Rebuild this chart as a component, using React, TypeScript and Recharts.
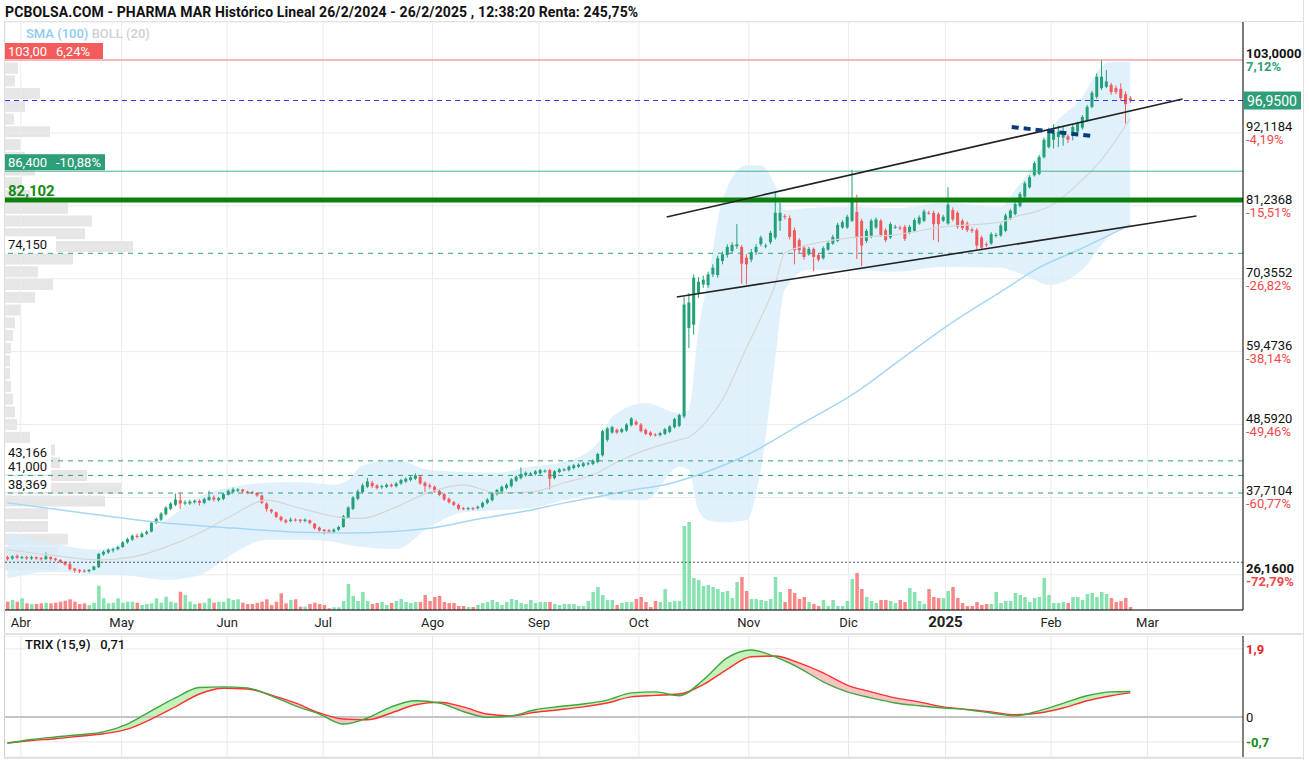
import React from 'react';
import {
  ComposedChart,
  Bar,
  Line,
  Area,
  XAxis,
  YAxis,
  CartesianGrid,
  ReferenceLine,
  Cell,
} from 'recharts';

const FONT = 'Roboto, "Liberation Sans", Arial, sans-serif';
const UP = '#23a077';
const DOWN = '#f4585b';
const VOL_UP = '#86e2ae';
const VOL_DOWN = '#f78888';

// x axis: trading-day index, month starts
const monthTicks = [2.8, 23.8, 45.8, 65.8, 88.6, 110.8, 131.6, 154.5, 175.3, 195.5, 217.5, 237.6];
const monthLabels = ['Abr', 'May', 'Jun', 'Jul', 'Ago', 'Sep', 'Oct', 'Nov', 'Dic', '2025', 'Feb', 'Mar'];

// right price axis
const priceTicks = [103, 92.1184, 81.2368, 70.3552, 59.4736, 48.592, 37.7104, 26.16];
const priceTickLabels = ['103,0000', '92,1184', '81,2368', '70,3552', '59,4736', '48,5920', '37,7104', '26,1600'];
const pctTickLabels = ['7,12%', '-4,19%', '-15,51%', '-26,82%', '-38,14%', '-49,46%', '-60,77%', '-72,79%'];

// candles [open, high, low, close]
const marApr = [
  [28.8, 29.0, 28.3, 28.5], [28.6, 29.1, 28.4, 28.9], [29.0, 29.2, 28.5, 28.7], [28.7, 29.0, 28.5, 28.8],
  [28.8, 29.0, 28.4, 28.6], [28.6, 29.0, 28.4, 28.8], [28.8, 28.9, 28.4, 28.6], [28.7, 28.8, 28.3, 28.5],
  [28.5, 29.5, 28.4, 28.9], [28.8, 28.9, 28.3, 28.5], [28.6, 28.7, 28.2, 28.4], [28.4, 28.5, 27.9, 28.1],
  [28.1, 28.2, 27.5, 27.7], [27.8, 27.9, 26.8, 27.0], [27.1, 27.2, 26.5, 26.8], [26.9, 27.0, 26.4, 26.7],
  [26.8, 27.0, 26.5, 26.7], [26.7, 27.0, 26.5, 26.9], [26.9, 27.5, 26.8, 27.4], [27.3, 29.4, 27.2, 29.3],
  [29.2, 29.8, 29.0, 29.6], [29.5, 30.1, 29.3, 29.9], [29.8, 30.2, 29.5, 30.0],
];
const may = [
  [30.0, 30.5, 29.8, 30.3], [30.3, 31.2, 30.2, 31.0], [31.0, 31.7, 30.8, 31.5], [31.4, 32.2, 31.2, 32.0],
  [32.0, 32.3, 31.6, 31.8], [31.8, 32.5, 31.7, 32.3], [32.3, 32.8, 32.1, 32.6], [32.6, 34.1, 32.5, 33.9],
  [33.9, 34.7, 33.7, 34.5], [34.4, 35.5, 34.2, 35.3], [35.2, 36.4, 35.0, 36.2], [36.0, 37.0, 35.8, 36.8],
  [36.6, 38.3, 36.4, 37.4], [37.3, 38.4, 36.0, 36.8], [36.8, 37.3, 36.5, 37.0], [36.8, 37.4, 36.6, 37.1],
  [37.0, 37.4, 36.8, 37.2], [37.2, 37.4, 36.5, 36.9], [36.9, 37.7, 36.7, 37.5], [37.3, 38.7, 37.2, 37.8],
  [37.7, 38.0, 37.1, 37.4], [37.3, 37.8, 37.1, 37.6],
];
const jun = [
  [37.5, 38.4, 37.3, 38.2], [38.1, 38.9, 38.0, 38.7], [38.5, 39.2, 38.3, 38.9], [38.7, 39.1, 38.5, 38.9],
  [38.9, 39.0, 38.4, 38.6], [38.6, 38.7, 38.2, 38.4], [38.5, 38.7, 38.2, 38.4], [38.4, 38.5, 37.8, 38.0],
  [38.0, 38.1, 36.7, 36.9], [36.8, 37.0, 35.6, 36.0], [35.9, 36.0, 35.3, 35.6], [35.5, 35.6, 34.6, 34.8],
  [34.8, 35.0, 34.1, 34.3], [34.3, 34.5, 33.8, 34.0], [34.2, 34.7, 34.0, 34.4], [34.4, 34.6, 34.1, 34.3],
  [34.4, 34.5, 33.9, 34.2], [34.2, 34.6, 34.0, 34.4], [34.3, 34.4, 33.7, 33.9], [33.8, 33.9, 32.9, 33.1],
];
const jul = [
  [33.2, 33.4, 32.6, 32.8], [32.9, 33.0, 32.2, 32.7], [32.8, 33.0, 32.4, 32.6], [32.6, 33.1, 32.4, 32.9],
  [32.9, 33.5, 32.7, 33.3], [33.3, 35.1, 33.2, 34.9], [34.7, 36.4, 34.5, 36.2], [36.0, 37.9, 35.8, 37.7],
  [37.5, 38.9, 37.3, 38.6], [38.5, 39.8, 38.3, 39.5], [39.3, 40.6, 39.1, 40.1], [39.9, 40.2, 39.1, 39.4],
  [39.5, 39.7, 38.9, 39.1], [39.3, 39.6, 39.0, 39.4], [39.3, 39.8, 39.1, 39.6], [39.6, 39.8, 39.2, 39.4],
  [39.4, 40.0, 39.2, 39.8], [39.8, 40.5, 39.6, 40.3], [40.1, 40.7, 39.9, 40.5], [40.3, 40.9, 40.1, 40.7],
  [40.5, 41.3, 40.3, 41.0], [40.8, 41.0, 39.6, 39.8], [39.9, 40.1, 38.5, 39.4],
];
const aug = [
  [39.5, 39.8, 39.0, 39.3], [39.3, 39.5, 38.4, 38.6], [38.7, 38.9, 37.9, 38.1], [38.2, 38.4, 37.2, 37.4],
  [37.5, 37.7, 36.8, 37.0], [37.0, 37.2, 36.4, 36.6], [36.6, 36.8, 35.8, 36.0], [36.1, 36.3, 35.8, 36.0],
  [36.0, 36.3, 35.8, 36.1], [36.1, 36.3, 35.8, 36.0], [36.1, 36.5, 35.9, 36.3], [36.3, 37.1, 36.1, 36.9],
  [36.9, 37.6, 36.7, 37.4], [37.3, 38.5, 37.1, 38.3], [38.2, 39.0, 38.0, 38.8], [38.6, 39.5, 38.4, 39.3],
  [39.1, 39.8, 38.9, 39.6], [39.4, 40.6, 39.2, 40.4], [40.2, 41.0, 40.0, 40.8], [40.6, 42.2, 40.4, 41.2],
  [41.0, 41.6, 40.8, 41.4], [41.1, 41.5, 40.9, 41.3],
];
const sep = [
  [41.2, 41.8, 41.0, 41.6], [41.3, 42.0, 41.1, 41.8], [41.6, 41.9, 41.4, 41.7], [41.8, 42.0, 38.9, 40.5],
  [40.6, 41.8, 40.4, 41.6], [41.5, 42.1, 41.3, 41.9], [41.8, 42.1, 41.6, 41.9], [41.8, 42.5, 41.6, 42.3],
  [42.1, 42.7, 41.9, 42.5], [42.3, 42.8, 42.1, 42.6], [42.4, 43.0, 42.2, 42.8], [42.7, 43.0, 42.5, 42.8],
  [42.7, 43.4, 42.5, 43.2], [43.0, 44.4, 42.8, 44.2], [44.0, 47.8, 43.8, 47.6], [46.3, 48.2, 46.0, 48.0],
  [47.4, 48.4, 47.2, 48.2], [47.8, 48.0, 47.2, 47.4], [47.5, 48.1, 47.3, 47.9], [47.7, 48.8, 47.5, 48.6],
  [48.5, 49.7, 48.3, 49.5],
];
const oct = [
  [49.0, 49.3, 48.4, 48.6], [48.6, 48.8, 47.4, 47.6], [47.8, 48.0, 47.0, 47.2], [47.4, 47.6, 46.8, 47.0],
  [47.1, 47.3, 46.8, 47.0], [47.0, 47.5, 46.8, 47.3], [47.2, 48.1, 47.0, 47.9], [47.5, 48.5, 47.3, 48.3],
  [48.2, 49.6, 48.0, 49.4], [48.4, 50.2, 48.2, 50.0], [49.8, 67.6, 49.5, 66.5], [63.0, 68.2, 60.0, 66.8],
  [63.5, 71.0, 62.0, 70.5], [68.2, 70.6, 67.5, 69.9], [69.5, 70.8, 69.0, 70.2], [69.4, 71.4, 69.0, 71.0],
  [71.0, 72.5, 70.6, 72.0], [70.9, 73.8, 70.5, 73.4], [73.0, 74.4, 72.5, 74.0], [73.9, 75.5, 73.5, 75.1],
  [74.5, 75.8, 74.2, 75.4], [75.2, 78.5, 74.8, 75.5], [75.1, 75.4, 69.6, 72.6],
];
const nov = [
  [73.5, 74.0, 69.5, 72.5], [73.2, 74.8, 72.8, 74.3], [74.3, 75.5, 73.9, 75.1], [75.5, 76.8, 75.2, 76.5],
  [75.2, 75.6, 74.9, 75.3], [75.8, 77.5, 75.5, 77.2], [76.5, 83.3, 76.2, 80.2], [79.0, 81.7, 77.5, 80.2],
  [79.7, 80.0, 79.2, 79.6], [79.4, 79.8, 76.2, 76.6], [77.6, 78.0, 72.5, 74.6], [76.1, 76.4, 74.2, 74.6],
  [75.0, 75.3, 73.2, 73.6], [74.0, 75.1, 73.8, 74.8], [74.8, 75.0, 71.5, 73.6], [73.9, 74.2, 72.9, 73.2],
  [73.4, 75.2, 73.2, 74.9], [74.7, 76.0, 74.5, 75.7], [75.6, 76.9, 75.4, 76.6], [76.0, 78.7, 75.8, 78.4],
  [78.0, 79.1, 77.8, 78.8],
];
const dec = [
  [78.0, 79.9, 77.8, 79.6], [79.0, 86.6, 78.8, 82.1], [80.3, 82.9, 73.3, 76.5], [79.0, 79.3, 72.2, 75.3],
  [76.0, 77.8, 75.7, 77.5], [76.6, 79.3, 76.4, 79.0], [78.0, 79.5, 77.8, 79.2], [79.0, 79.3, 76.6, 76.9],
  [77.6, 77.9, 75.8, 76.1], [76.5, 78.8, 76.3, 78.5], [78.0, 78.4, 77.8, 78.1], [78.0, 78.3, 77.6, 77.9],
  [78.1, 78.4, 76.0, 76.3], [77.2, 78.4, 77.0, 78.1], [77.5, 79.4, 77.3, 79.1], [78.6, 79.8, 78.4, 79.5],
  [79.0, 80.7, 78.8, 80.4], [80.2, 80.5, 79.9, 80.1], [80.2, 80.5, 76.1, 78.5], [80.0, 80.3, 75.8, 78.5],
];
const jan = [
  [79.0, 79.9, 78.8, 79.6], [78.6, 84.0, 78.4, 81.4], [80.6, 81.0, 78.9, 79.2], [80.2, 80.5, 77.8, 78.1],
  [79.0, 79.3, 77.6, 77.9], [78.6, 78.9, 77.3, 77.6], [77.7, 78.0, 77.2, 77.5], [77.6, 77.9, 74.7, 75.3],
  [76.5, 76.8, 74.7, 75.0], [75.5, 75.8, 75.1, 75.4], [75.6, 77.3, 75.4, 77.0], [76.8, 77.2, 76.5, 76.9],
  [76.8, 78.6, 76.6, 78.3], [77.5, 80.1, 77.3, 79.8], [79.3, 80.8, 79.1, 80.5], [80.0, 81.8, 79.8, 81.5],
  [81.2, 83.3, 81.0, 83.0], [82.6, 84.9, 82.4, 84.6], [84.0, 85.8, 83.8, 85.5], [85.8, 87.9, 85.6, 87.6],
  [86.0, 88.8, 85.8, 88.5], [88.5, 91.4, 88.3, 91.1],
];
const feb = [
  [90.0, 92.9, 89.8, 92.6], [91.1, 93.4, 89.8, 92.1], [91.5, 93.2, 90.0, 92.3], [91.4, 93.0, 90.2, 92.2],
  [91.6, 91.9, 90.6, 91.1], [91.8, 93.3, 91.0, 93.0], [92.3, 93.8, 92.0, 93.5], [92.9, 94.8, 92.6, 94.5],
  [94.0, 96.3, 93.8, 96.0], [96.0, 98.4, 95.8, 98.1], [97.5, 101.0, 97.2, 100.5], [98.8, 103.0, 98.5, 100.5],
  [99.0, 101.5, 98.8, 99.8], [99.3, 99.6, 97.8, 98.2], [98.8, 99.2, 97.9, 98.2], [98.7, 99.5, 96.9, 97.3],
  [97.9, 98.3, 93.5, 96.4], [97.3, 97.6, 96.6, 96.95],
];

// volume (thousand shares)
const volMarApr = [83, 100, 83, 117, 67, 60, 60, 67, 73, 67, 73, 83, 93, 107, 83, 60, 67, 50, 73, 243, 117, 67, 73];
const volMay = [117, 73, 83, 83, 73, 50, 60, 67, 117, 73, 133, 83, 73, 183, 150, 83, 60, 67, 73, 117, 73, 83];
const volJun = [83, 117, 100, 107, 73, 60, 60, 73, 83, 107, 50, 83, 167, 67, 100, 107, 33, 33, 60, 73];
const volJul = [60, 50, 17, 27, 27, 90, 260, 140, 90, 180, 90, 60, 70, 80, 50, 70, 90, 110, 80, 70, 80, 80, 150];
const volAug = [90, 130, 140, 80, 70, 70, 40, 40, 30, 30, 50, 70, 80, 100, 80, 50, 80, 110, 100, 70, 60, 100];
const volSep = [70, 80, 80, 80, 60, 50, 60, 60, 60, 40, 40, 90, 180, 230, 150, 100, 100, 50, 70, 80, 80];
const volOct = [110, 130, 80, 30, 90, 80, 210, 80, 90, 90, 840, 880, 320, 300, 240, 250, 230, 210, 180, 190, 120, 280, 330];
const volNov = [190, 110, 110, 100, 90, 110, 330, 180, 80, 210, 170, 110, 130, 80, 60, 40, 100, 40, 100, 40, 40];
const volDec = [90, 310, 370, 210, 130, 90, 70, 100, 100, 90, 70, 100, 80, 220, 180, 90, 60, 210, 130, 120];
const volJan = [120, 190, 230, 120, 70, 40, 40, 80, 50, 60, 60, 180, 70, 90, 90, 170, 150, 130, 80, 120, 130, 320];
const volFeb = [150, 70, 70, 80, 70, 130, 130, 100, 160, 170, 130, 180, 160, 120, 80, 90, 120, 30];

// Bollinger (20) read points
const bbIdx = [0, 9, 19, 26, 33, 40, 47, 54, 61, 68, 71, 74, 81, 88, 95, 102, 109, 116, 123, 126, 133, 140, 142, 144, 146, 149, 154, 157, 160, 162, 167, 175, 185, 195, 207, 210, 214, 217, 224, 228, 230, 234];
const bbUpper = [32.4, 30.9, 29.9, 31.4, 34.3, 37.8, 39.3, 39.9, 40.0, 39.6, 40.3, 42.5, 43.3, 41.8, 41.5, 41.4, 42.3, 43.0, 45.8, 49.7, 51.8, 50.3, 50.8, 62.7, 70.2, 82.1, 87.3, 87.3, 84.3, 80.6, 80.9, 81.1, 80.9, 81.7, 81.1, 83.6, 87.6, 92.1, 97.5, 102.0, 102.7, 102.7];
const bbMid = [29.9, 29.1, 28.4, 28.8, 30.3, 32.4, 35.1, 37.3, 36.1, 34.9, 34.6, 34.6, 36.3, 38.5, 39.6, 38.4, 38.5, 39.9, 41.4, 42.6, 44.8, 46.3, 46.7, 47.8, 49.3, 52.3, 60.0, 64.5, 69.5, 74.2, 75.4, 76.4, 76.9, 78.1, 78.8, 79.6, 80.3, 81.1, 85.1, 88.1, 90.0, 94.3];
const bbLower = [25.6, 26.6, 26.2, 26.0, 25.4, 26.1, 29.3, 31.4, 31.4, 31.1, 30.6, 30.3, 30.0, 33.3, 35.5, 35.8, 36.1, 37.3, 38.1, 37.3, 37.3, 42.3, 41.8, 35.8, 34.3, 34.0, 34.3, 41.8, 58.2, 68.7, 71.7, 71.7, 71.4, 72.1, 72.0, 71.4, 70.2, 69.4, 71.7, 75.4, 76.9, 78.4];

// SMA (100) read points
const smaIdx = [0, 19, 33, 47, 61, 71, 88, 99, 109, 116, 123, 130, 137, 144, 154, 165, 176, 186, 196, 207, 215, 223, 234];
const smaVals = [36.9, 35.1, 33.9, 33.15, 32.5, 32.4, 33.1, 34.6, 35.8, 36.9, 37.8, 38.8, 39.6, 41.1, 44.0, 48.5, 53.0, 58.2, 63.4, 68.4, 72.0, 74.6, 78.4];

// volume-by-price profile (left)
const profilePrices = [101.8, 99.9, 98.0, 96.1, 94.2, 92.3, 90.4, 88.5, 86.6, 84.7, 82.8, 80.9, 79.0, 77.1, 75.2, 73.3, 71.4, 69.5, 67.6, 65.7, 63.8, 61.9, 60.0, 58.1, 56.2, 54.3, 52.4, 50.5, 48.6, 46.7, 44.8, 42.9, 41.0, 39.1, 37.2, 35.3, 33.4, 31.5, 29.6, 27.7];
const profileVols = [13, 10, 35, 20, 9, 45, 15, 20, 30, 17, 25, 63, 87, 80, 128, 68, 33, 48, 30, 15, 10, 8, 6, 5, 5, 6, 8, 10, 12, 25, 50, 55, 82, 117, 100, 43, 43, 63, 53, 53];

// TRIX (15,9)
const trixIdx = [0, 5, 10, 15, 20, 25, 30, 35, 40, 45, 50, 55, 60, 65, 70, 75, 80, 85, 90, 95, 100, 105, 110, 115, 120, 125, 130, 135, 140, 145, 150, 155, 160, 165, 170, 175, 180, 185, 190, 195, 200, 205, 210, 215, 220, 225, 230, 234];
const trixVals = [-0.73, -0.63, -0.56, -0.5, -0.42, -0.2, 0.17, 0.53, 0.82, 0.84, 0.81, 0.59, 0.31, 0.08, -0.2, -0.03, 0.28, 0.45, 0.39, 0.15, -0.01, 0.03, 0.2, 0.29, 0.36, 0.47, 0.67, 0.7, 0.59, 1.03, 1.65, 1.87, 1.68, 1.37, 0.98, 0.7, 0.53, 0.39, 0.31, 0.25, 0.2, 0.11, 0.03, 0.17, 0.38, 0.59, 0.7, 0.71];
const signalVals = [-0.73, -0.66, -0.61, -0.54, -0.47, -0.34, -0.06, 0.28, 0.64, 0.8, 0.78, 0.61, 0.39, 0.11, -0.06, -0.08, 0.11, 0.34, 0.41, 0.28, 0.08, 0.03, 0.13, 0.2, 0.28, 0.39, 0.56, 0.6, 0.64, 0.9, 1.33, 1.68, 1.7, 1.51, 1.23, 0.89, 0.7, 0.53, 0.42, 0.28, 0.21, 0.14, 0.06, 0.11, 0.25, 0.45, 0.59, 0.67];
const trixTicks = [1.9, 0, -0.7];
const trixTickLabels = ['1,9', '0', '-0,7'];
const trixTickColors = ['#e81e1e', '#111', '#168a16'];

// levels and drawn lines
const lastPrice = 96.95;
const maxLevel = 103;
const level86 = 86.4;
const level82 = 82.102;
const level74 = 74.15;
const lowLevels = [43.166, 41.0, 38.369];
const lowLevelLabels = ['43,166', '41,000', '38,369'];
const startPrice = 28.04;
const upperChannel = [{ x: 137.4, y: 79.57 }, { x: 244.9, y: 97.18 }];
const lowerChannel = [{ x: 139.5, y: 67.63 }, { x: 247.8, y: 79.72 }];
const navyLine = [{ x: 209.3, y: 93.0 }, { x: 225.9, y: 91.66 }];

const X_DOMAIN = [-0.5, 257.5];
const PRICE_DOMAIN = [20.91, 108.67];

const candles = [...marApr, ...may, ...jun, ...jul, ...aug, ...sep, ...oct, ...nov, ...dec, ...jan, ...feb];
const volumes = [...volMarApr, ...volMay, ...volJun, ...volJul, ...volAug, ...volSep, ...volOct, ...volNov, ...volDec, ...volJan, ...volFeb];

const Candle = (props: any) => {
  const { x, y, width, height, payload } = props;
  if (payload == null || x == null) return null;
  const { o, h, l, c } = payload;
  const color = c >= o ? UP : DOWN;
  const top0 = height >= 0 ? y : y + height;
  const hh = Math.abs(height);
  const k = h > l ? hh / (h - l) : 0;
  const bTop = top0 + (h - Math.max(o, c)) * k;
  const bBot = top0 + (h - Math.min(o, c)) * k;
  const cx = x + width / 2;
  return (
    <g>
      <line x1={cx} x2={cx} y1={top0} y2={top0 + hh} stroke={color} strokeWidth={1} />
      <rect x={x} y={bTop} width={width} height={Math.max(1, bBot - bTop)} fill={color} />
    </g>
  );
};

const MonthTick = (props: any) => {
  const { x, y, index } = props;
  const label = monthLabels[index] ?? '';
  const bold = label === '2025';
  return (
    <text x={x} y={y + 15} textAnchor="middle" fontFamily={FONT} fontSize={bold ? 15 : 13}
      fontWeight={bold ? 700 : 400} fill="#222">
      {label}
    </text>
  );
};

const PriceTick = (props: any) => {
  const { x, y, index } = props;
  const pct = pctTickLabels[index] ?? '';
  const bold = index === 0 || index === priceTicks.length - 1;
  return (
    <g fontFamily={FONT} fontSize={13}>
      <text x={x} y={y - 2} textAnchor="start" fontWeight={bold ? 700 : 400} fill="#111">
        {priceTickLabels[index]}
      </text>
      <text x={x} y={y + 11} textAnchor="start" fontWeight={bold ? 700 : 400}
        fill={pct.startsWith('-') ? '#f04848' : '#2e9e78'}>
        {pct}
      </text>
    </g>
  );
};

const TrixTick = (props: any) => {
  const { x, y, index } = props;
  return (
    <text x={x} y={y + 5} textAnchor="start" fontFamily={FONT} fontSize={13} fontWeight={index === 1 ? 400 : 700}
      fill={trixTickColors[index]}>
      {trixTickLabels[index]}
    </text>
  );
};

const LeftTag = (props: any) => {
  const { viewBox, text, text2, bg, color, width, bold, size, gap } = props;
  if (!viewBox) return null;
  const { x, y } = viewBox;
  return (
    <g fontFamily={FONT}>
      {bg && <rect x={x} y={y - 17} width={width} height={16} fill={bg} />}
      <text x={x + 3} y={y - 4} fontSize={size || 13} fontWeight={bold ? 700 : 400} fill={color}>{text}</text>
      {text2 && (
        <text x={x + gap} y={y - 4} fontSize={size || 13} fill={color}>{text2}</text>
      )}
    </g>
  );
};

const PriceTag = (props: any) => {
  const { viewBox } = props;
  if (!viewBox) return null;
  const { x, y, width } = viewBox;
  return (
    <g fontFamily={FONT}>
      <rect x={x + width + 1} y={y - 9} width={57} height={18} fill="#2e9e78" />
      <text x={x + width + 4} y={y + 5} fontSize={14} fill="#fff">96,9500</text>
    </g>
  );
};

export default function App() {
  const data = candles.map(([o, h, l, c], i) => ({ i, o, h, l, c, v: volumes[i] }));
  const bbData = bbIdx.map((i, k) => ({ i, up: bbUpper[k], mid: bbMid[k], lo: bbLower[k] }));
  const smaData = smaIdx.map((i, k) => ({ i, v: smaVals[k] }));
  const trixData = trixIdx.map((i, k) => ({ i, t: trixVals[k], s: signalVals[k] }));
  const profileData = profilePrices.map((p, k) => ({ p, v: profileVols[k] }));

  return (
    <div style={{ position: 'absolute', left: 0, top: 0, width: 1309, height: 763, background: '#fff', overflow: 'hidden', fontFamily: FONT }}>
      <div style={{ position: 'absolute', left: 5, top: 4, fontSize: 14, fontWeight: 700, color: '#111', whiteSpace: 'nowrap', letterSpacing: 0.12 }}>
        PCBOLSA.COM - PHARMA MAR Histórico Lineal 26/2/2024 - 26/2/2025 , 12:38:20 Renta: 245,75%
      </div>
      <div style={{ position: 'absolute', left: 4, top: 21, width: 1300, height: 1, background: '#dcdcdc' }} />
      <div style={{ position: 'absolute', left: 4, top: 22, width: 1, height: 736, background: '#d0d0d0' }} />
      <div style={{ position: 'absolute', left: 1303, top: 0, width: 1, height: 760, background: '#e0e0e0' }} />

      {/* volume profile behind the price chart */}
      <div style={{ position: 'absolute', left: 0, top: 0 }}>
        <ComposedChart layout="vertical" width={1309} height={635} data={profileData}
          margin={{ top: 22, right: 66, bottom: 25, left: 5 }}>
          <XAxis type="number" domain={[0, 1238]} hide allowDataOverflow />
          <YAxis type="number" dataKey="p" domain={PRICE_DOMAIN} reversed hide allowDataOverflow />
          <Bar dataKey="v" fill="#e6e6e6" barSize={11} isAnimationActive={false} />
        </ComposedChart>
      </div>

      <div style={{ position: 'absolute', left: 0, top: 0 }}>
        <ComposedChart width={1309} height={635} data={data} margin={{ top: 22, right: 0, bottom: 0, left: 5 }}>
          <XAxis type="number" dataKey="i" domain={X_DOMAIN} ticks={monthTicks} interval={0} allowDataOverflow
            height={25} tickLine={false} tickSize={0} axisLine={{ stroke: '#000' }} tick={<MonthTick />} />
          <XAxis xAxisId="vol" type="number" dataKey="i" domain={X_DOMAIN} hide allowDataOverflow />
          <YAxis yAxisId="price" orientation="right" type="number" domain={PRICE_DOMAIN} ticks={priceTicks}
            interval={0} allowDataOverflow width={66} tickLine={false} tickSize={0} tickMargin={3}
            axisLine={{ stroke: '#000' }} tick={<PriceTick />} />
          <YAxis yAxisId="vol" type="number" domain={[0, 5880]} hide allowDataOverflow />
          <CartesianGrid yAxisId="price" stroke="#ebebeb" />

          <Area data={bbData} yAxisId="price" dataKey={(d: any) => [d.lo, d.up]} type="monotone"
            fill="#d9edfb" fillOpacity={0.8} stroke="none" isAnimationActive={false} />
          <Line data={bbData} yAxisId="price" dataKey="mid" type="monotone" stroke="#d6d6d6" strokeWidth={1.2}
            dot={false} activeDot={false} isAnimationActive={false} />
          <Line data={smaData} yAxisId="price" dataKey="v" type="monotone" stroke="#a6d6f7" strokeWidth={1.5}
            dot={false} activeDot={false} isAnimationActive={false} />

          <Bar xAxisId="vol" yAxisId="vol" dataKey="v" barSize={3.5} isAnimationActive={false}>
            {data.map((d) => (
              <Cell key={d.i} fill={d.c >= d.o ? VOL_UP : VOL_DOWN} />
            ))}
          </Bar>

          <ReferenceLine yAxisId="price" y={startPrice} stroke="#555" strokeDasharray="2 2" />
          <ReferenceLine yAxisId="price" y={maxLevel} stroke="#f58080"
            label={<LeftTag text="103,00" text2="6,24%" gap={51} bg="#f45b5b" color="#fff" width={98} />} />
          <ReferenceLine yAxisId="price" y={level86} stroke="#48b48a"
            label={<LeftTag text="86,400" text2="-10,88%" gap={51} bg="#2e9e78" color="#fff" width={100} />} />
          <ReferenceLine yAxisId="price" y={level74} stroke="#2e9e78" strokeDasharray="5 5"
            label={<LeftTag text="74,150" bg="#fff" color="#111" width={51} />} />
          {lowLevels.map((lv, k) => (
            <ReferenceLine key={lv} yAxisId="price" y={lv} stroke="#2e9e78" strokeDasharray="5 5"
              label={<LeftTag text={lowLevelLabels[k]} bg="#fff" color="#111" width={46} />} />
          ))}

          <Bar yAxisId="price" dataKey={(d: any) => [d.l, d.h]} barSize={3} shape={<Candle />}
            isAnimationActive={false} />

          <ReferenceLine yAxisId="price" y={level82} stroke="#0c800c" strokeWidth={5}
            label={<LeftTag text="82,102" color="#128a12" bold size={15} />} />
          <ReferenceLine yAxisId="price" y={lastPrice} stroke="#3434ff" strokeDasharray="5 4"
            label={<PriceTag />} />
          <ReferenceLine yAxisId="price" segment={upperChannel} stroke="#222" strokeWidth={1.6} />
          <ReferenceLine yAxisId="price" segment={lowerChannel} stroke="#222" strokeWidth={1.6} />
          <ReferenceLine yAxisId="price" segment={navyLine} stroke="#0b3b78" strokeWidth={4} strokeDasharray="7 5" />
        </ComposedChart>
      </div>

      <div style={{ position: 'absolute', left: 26, top: 26, fontSize: 13, fontWeight: 500, whiteSpace: 'nowrap' }}>
        <span style={{ color: '#8fcaf2' }}>SMA (100)</span>{' '}
        <span style={{ color: '#d0d0d0' }}>BOLL (20)</span>
      </div>

      {/* TRIX panel */}
      <div style={{ position: 'absolute', left: 4, top: 633, width: 1300, height: 2, background: '#e2e2e2' }} />
      <div style={{ position: 'absolute', left: 4, top: 757, width: 1300, height: 2, background: '#e2e2e2' }} />
      <div style={{ position: 'absolute', left: 0, top: 636 }}>
        <ComposedChart width={1309} height={121} data={trixData} margin={{ top: 0, right: 0, bottom: 0, left: 5 }}>
          <XAxis type="number" dataKey="i" domain={X_DOMAIN} ticks={monthTicks} interval={0} hide allowDataOverflow />
          <YAxis orientation="right" type="number" domain={[-1.12, 2.26]} ticks={trixTicks} interval={0}
            allowDataOverflow width={66} tickLine={false} tickSize={0} tickMargin={3}
            axisLine={{ stroke: '#000' }} tick={<TrixTick />} />
          <CartesianGrid stroke="#e8e8e8" verticalValues={monthTicks} />
          <ReferenceLine y={0} stroke="#c4c4c4" strokeWidth={2} />
          <Area dataKey={(d: any) => [d.s, Math.max(d.t, d.s)]} type="monotone" fill="#c4f2bd" fillOpacity={1}
            stroke="none" isAnimationActive={false} />
          <Area dataKey={(d: any) => [Math.min(d.t, d.s), d.s]} type="monotone" fill="#f9c4c4" fillOpacity={1}
            stroke="none" isAnimationActive={false} />
          <Line dataKey="s" type="monotone" stroke="#ff3030" strokeWidth={1.4} dot={false} activeDot={false}
            isAnimationActive={false} />
          <Line dataKey="t" type="monotone" stroke="#3fa63f" strokeWidth={1.4} dot={false} activeDot={false}
            isAnimationActive={false} />
        </ComposedChart>
      </div>
      <div style={{ position: 'absolute', left: 25, top: 637, fontSize: 13, fontWeight: 500, color: '#111', whiteSpace: 'pre' }}>
        {'TRIX (15,9)   0,71'}
      </div>
    </div>
  );
}
